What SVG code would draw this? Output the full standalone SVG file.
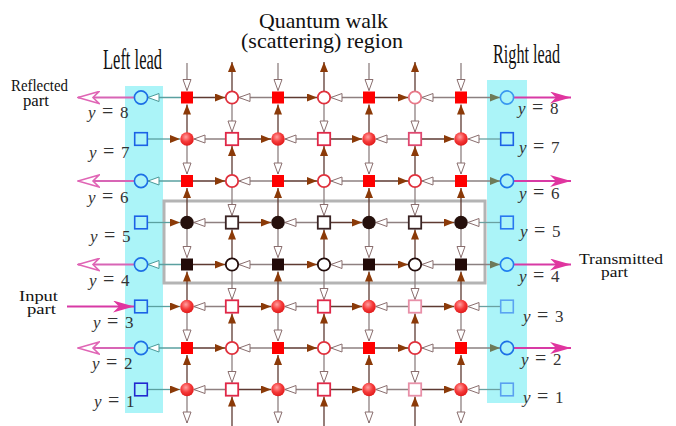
<svg xmlns="http://www.w3.org/2000/svg" xmlns:xlink="http://www.w3.org/1999/xlink" width="676" height="426" viewBox="0 0 676 426">
<style>
.e{fill:none;stroke-width:1.3}
.r,.u{stroke:#5e3a32;marker-end:url(#mf)}
.l,.d{stroke:#8e8080;marker-end:url(#mo)}
.rt{stroke:#5aa0a0;marker-end:url(#mf)}
.lt{stroke:#5aa0a0;marker-end:url(#mot)}
.rg{stroke:#8a8080;marker-end:url(#mg)}
.lr{stroke:#6aa0a0;marker-end:url(#mo)}
.pr{fill:none;stroke:#d865b5;stroke-width:2;marker-end:url(#mpo)}
.pt{fill:none;stroke:#d83aa5;stroke-width:2;marker-end:url(#mpf)}
.t{font-family:"Liberation Serif","DejaVu Serif",serif;fill:#111}
.m{font-family:"Liberation Serif","DejaVu Serif",serif;font-size:17px;fill:#333}
.m tspan.i{font-style:italic}
.m tspan.q{font-size:20px}
</style>
<defs>
<radialGradient id="gR" cx="0.42" cy="0.35" r="0.65">
<stop offset="0" stop-color="#ffa0a0"/><stop offset="0.55" stop-color="#f53a3a"/><stop offset="1" stop-color="#e01a1a"/>
</radialGradient>
<marker id="mf" viewBox="0 0 10 8" refX="10" refY="4" markerWidth="10" markerHeight="8" markerUnits="userSpaceOnUse" orient="auto"><path d="M0,0L10,4L0,8z" fill="#8b3a08"/></marker>
<marker id="mg" viewBox="0 0 10 8" refX="10" refY="4" markerWidth="10" markerHeight="8" markerUnits="userSpaceOnUse" orient="auto"><path d="M0,0L10,4L0,8z" fill="#6e7a58"/></marker>
<marker id="mo" viewBox="-1 -1 13 11" refX="11" refY="4.5" markerWidth="13" markerHeight="11" markerUnits="userSpaceOnUse" orient="auto"><path d="M0,0.5L11,4.5L0,8.5z" fill="#fff" stroke="#8a6e6e" stroke-width="1"/></marker>
<marker id="mot" viewBox="-1 -1 13 11" refX="11" refY="4.5" markerWidth="13" markerHeight="11" markerUnits="userSpaceOnUse" orient="auto"><path d="M0,0.5L11,4.5L0,8.5z" fill="#fff" stroke="#4a9a9a" stroke-width="1"/></marker>
<marker id="mpf" viewBox="0 0 21 12" refX="21" refY="6" markerWidth="21" markerHeight="12" markerUnits="userSpaceOnUse" orient="auto"><path d="M0,0L21,6L0,12L6,6z" fill="#e0359f"/></marker>
<marker id="mpo" viewBox="-1 -1 23 14" refX="21" refY="6" markerWidth="23" markerHeight="14" markerUnits="userSpaceOnUse" orient="auto"><path d="M0,0L21,6L0,12L6,6z" fill="#fff" stroke="#e065b5" stroke-width="1.6"/></marker>
<rect id="sF" x="-6" y="-6" width="12" height="12"/>
<circle id="cF" r="6.8"/>
<rect id="sO" x="-6.2" y="-6.2" width="12.4" height="12.4" fill="#fff" stroke-width="1.8"/>
<circle id="cO" r="6.2" fill="#fff" stroke-width="1.8"/>
<rect id="sB" x="-6.3" y="-6.3" width="12.6" height="12.6" fill="none" stroke-width="1.6"/>
<circle id="cB" r="6.6" fill="none" stroke-width="1.6"/>
</defs>

<g id="leads-bg">
<rect x="125" y="86" width="38" height="327" fill="#abf4f8"/>
<rect x="487" y="80" width="40" height="323" fill="#abf4f8"/>
</g>
<rect id="region-box" x="164" y="201" width="321" height="82" fill="none" stroke="#b4b4b4" stroke-width="3"/>

<g id="connectors" class="e">
<path class="lt" d="M187 97.5H148"/><path class="r" d="M187 97.5H225"/><path class="l" d="M278 97.5H239"/><path class="r" d="M278 97.5H317"/><path class="l" d="M369 97.5H331"/><path class="r" d="M369 97.5H408"/><path class="l" d="M461 97.5H422"/><path class="rg" d="M461 97.5H500"/>
<path class="lt" d="M187 181H148"/><path class="r" d="M187 181H225"/><path class="l" d="M278 181H239"/><path class="r" d="M278 181H317"/><path class="l" d="M369 181H331"/><path class="r" d="M369 181H408"/><path class="l" d="M461 181H422"/><path class="rg" d="M461 181H500"/>
<path class="lt" d="M187 264.5H148"/><path class="r" d="M187 264.5H225"/><path class="l" d="M278 264.5H239"/><path class="r" d="M278 264.5H317"/><path class="l" d="M369 264.5H331"/><path class="r" d="M369 264.5H408"/><path class="l" d="M461 264.5H422"/><path class="rg" d="M461 264.5H500"/>
<path class="lt" d="M187 348H148"/><path class="r" d="M187 348H225"/><path class="l" d="M278 348H239"/><path class="r" d="M278 348H317"/><path class="l" d="M369 348H331"/><path class="r" d="M369 348H408"/><path class="l" d="M461 348H422"/><path class="rg" d="M461 348H500"/>
<path class="rt" d="M148 139H180"/><path class="l" d="M232 139H194"/><path class="r" d="M232 139H271"/><path class="l" d="M324 139H285"/><path class="r" d="M324 139H362"/><path class="l" d="M415 139H376"/><path class="r" d="M415 139H454"/><path class="lr" d="M500 139H468"/>
<path class="rt" d="M148 222.5H180"/><path class="l" d="M232 222.5H194"/><path class="r" d="M232 222.5H271"/><path class="l" d="M324 222.5H285"/><path class="r" d="M324 222.5H362"/><path class="l" d="M415 222.5H376"/><path class="r" d="M415 222.5H454"/><path class="lr" d="M500 222.5H468"/>
<path class="rt" d="M148 306.5H180"/><path class="l" d="M232 306.5H194"/><path class="r" d="M232 306.5H271"/><path class="l" d="M324 306.5H285"/><path class="r" d="M324 306.5H362"/><path class="l" d="M415 306.5H376"/><path class="r" d="M415 306.5H454"/><path class="lr" d="M500 306.5H468"/>
<path class="rt" d="M148 389.5H180"/><path class="l" d="M232 389.5H194"/><path class="r" d="M232 389.5H271"/><path class="l" d="M324 389.5H285"/><path class="r" d="M324 389.5H362"/><path class="l" d="M415 389.5H376"/><path class="r" d="M415 389.5H454"/><path class="lr" d="M500 389.5H468"/>
<path class="d" d="M187 63V90.5"/><path class="u" d="M187 139V104.5"/><path class="d" d="M187 139V174"/><path class="u" d="M187 222.5V188"/><path class="d" d="M187 222.5V257.5"/><path class="u" d="M187 306.5V271.5"/><path class="d" d="M187 306.5V341"/><path class="u" d="M187 389.5V355"/><path class="d" d="M187 389.5V423"/>
<path class="d" d="M278 63V90.5"/><path class="u" d="M278 139V104.5"/><path class="d" d="M278 139V174"/><path class="u" d="M278 222.5V188"/><path class="d" d="M278 222.5V257.5"/><path class="u" d="M278 306.5V271.5"/><path class="d" d="M278 306.5V341"/><path class="u" d="M278 389.5V355"/><path class="d" d="M278 389.5V423"/>
<path class="d" d="M369 63V90.5"/><path class="u" d="M369 139V104.5"/><path class="d" d="M369 139V174"/><path class="u" d="M369 222.5V188"/><path class="d" d="M369 222.5V257.5"/><path class="u" d="M369 306.5V271.5"/><path class="d" d="M369 306.5V341"/><path class="u" d="M369 389.5V355"/><path class="d" d="M369 389.5V423"/>
<path class="d" d="M461 63V90.5"/><path class="u" d="M461 139V104.5"/><path class="d" d="M461 139V174"/><path class="u" d="M461 222.5V188"/><path class="d" d="M461 222.5V257.5"/><path class="u" d="M461 306.5V271.5"/><path class="d" d="M461 306.5V341"/><path class="u" d="M461 389.5V355"/><path class="d" d="M461 389.5V423"/>
<path class="u" d="M232 97.5V62"/><path class="d" d="M232 97.5V132"/><path class="u" d="M232 181V146"/><path class="d" d="M232 181V215.5"/><path class="u" d="M232 264.5V229.5"/><path class="d" d="M232 264.5V299.5"/><path class="u" d="M232 348V313.5"/><path class="d" d="M232 348V382.5"/><path class="u" d="M232 426V396.5"/>
<path class="u" d="M324 97.5V62"/><path class="d" d="M324 97.5V132"/><path class="u" d="M324 181V146"/><path class="d" d="M324 181V215.5"/><path class="u" d="M324 264.5V229.5"/><path class="d" d="M324 264.5V299.5"/><path class="u" d="M324 348V313.5"/><path class="d" d="M324 348V382.5"/><path class="u" d="M324 426V396.5"/>
<path class="u" d="M415 97.5V62"/><path class="d" d="M415 97.5V132"/><path class="u" d="M415 181V146"/><path class="d" d="M415 181V215.5"/><path class="u" d="M415 264.5V229.5"/><path class="d" d="M415 264.5V299.5"/><path class="u" d="M415 348V313.5"/><path class="d" d="M415 348V382.5"/><path class="u" d="M415 426V396.5"/>
<path class="pr" d="M134 97.5H78"/><path class="pr" d="M134 181H78"/><path class="pr" d="M134 264.5H78"/><path class="pr" d="M134 348H78"/>
<path class="pt" d="M514 97.5H571"/><path class="pt" d="M514 181H571"/><path class="pt" d="M514 264.5H571"/><path class="pt" d="M514 348H571"/>
<path class="pt" d="M67 306.5H134"/>
</g>

<g id="row8">
<g id="L8"><use href="#cB" x="141" y="97.5" stroke="#1c6fe6"/></g>
<g id="n8-1"><use href="#sF" x="187" y="97.5" fill="#ff0000"/></g>
<g id="n8-2"><use href="#cO" x="232" y="97.5" stroke="#e0303c"/></g>
<g id="n8-3"><use href="#sF" x="278" y="97.5" fill="#ff0000"/></g>
<g id="n8-4"><use href="#cO" x="324" y="97.5" stroke="#e0303c"/></g>
<g id="n8-5"><use href="#sF" x="369" y="97.5" fill="#ff0000"/></g>
<g id="n8-6"><use href="#cO" x="415" y="97.5" stroke="#e87888"/></g>
<g id="n8-7"><use href="#sF" x="461" y="97.5" fill="#ff0000"/></g>
<g id="R8"><use href="#cB" x="507" y="97.5" stroke="#3a98f0"/></g>
</g>
<g id="row7">
<g id="L7"><use href="#sB" x="141" y="139" stroke="#1c62e6"/></g>
<g id="n7-1"><use href="#cF" x="187" y="139" fill="url(#gR)"/></g>
<g id="n7-2"><use href="#sO" x="232" y="139" stroke="#e02848"/></g>
<g id="n7-3"><use href="#cF" x="278" y="139" fill="url(#gR)"/></g>
<g id="n7-4"><use href="#sO" x="324" y="139" stroke="#e02848"/></g>
<g id="n7-5"><use href="#cF" x="369" y="139" fill="url(#gR)"/></g>
<g id="n7-6"><use href="#sO" x="415" y="139" stroke="#e04870"/></g>
<g id="n7-7"><use href="#cF" x="461" y="139" fill="url(#gR)"/></g>
<g id="R7"><use href="#sB" x="507" y="139" stroke="#1c62e6"/></g>
</g>
<g id="row6">
<g id="L6"><use href="#cB" x="141" y="181" stroke="#1c6fe6"/></g>
<g id="n6-1"><use href="#sF" x="187" y="181" fill="#ff0000"/></g>
<g id="n6-2"><use href="#cO" x="232" y="181" stroke="#e0303c"/></g>
<g id="n6-3"><use href="#sF" x="278" y="181" fill="#ff0000"/></g>
<g id="n6-4"><use href="#cO" x="324" y="181" stroke="#e0303c"/></g>
<g id="n6-5"><use href="#sF" x="369" y="181" fill="#ff0000"/></g>
<g id="n6-6"><use href="#cO" x="415" y="181" stroke="#e0303c"/></g>
<g id="n6-7"><use href="#sF" x="461" y="181" fill="#ff0000"/></g>
<g id="R6"><use href="#cB" x="507" y="181" stroke="#1c78ea"/></g>
</g>
<g id="row5">
<g id="L5"><use href="#sB" x="141" y="222.5" stroke="#1c62e6"/></g>
<g id="n5-1"><use href="#cF" x="187" y="222.5" fill="#25100c"/></g>
<g id="n5-2"><use href="#sO" x="232" y="222.5" stroke="#3a2424"/></g>
<g id="n5-3"><use href="#cF" x="278" y="222.5" fill="#25100c"/></g>
<g id="n5-4"><use href="#sO" x="324" y="222.5" stroke="#3a2424"/></g>
<g id="n5-5"><use href="#cF" x="369" y="222.5" fill="#25100c"/></g>
<g id="n5-6"><use href="#sO" x="415" y="222.5" stroke="#3a2424"/></g>
<g id="n5-7"><use href="#cF" x="461" y="222.5" fill="#25100c"/></g>
<g id="R5"><use href="#sB" x="507" y="222.5" stroke="#2878f0"/></g>
</g>
<g id="row4">
<g id="L4"><use href="#cB" x="141" y="264.5" stroke="#1c6fe6"/></g>
<g id="n4-1"><use href="#sF" x="187" y="264.5" fill="#220a08"/></g>
<g id="n4-2"><use href="#cO" x="232" y="264.5" stroke="#220c0a"/></g>
<g id="n4-3"><use href="#sF" x="278" y="264.5" fill="#220a08"/></g>
<g id="n4-4"><use href="#cO" x="324" y="264.5" stroke="#220c0a"/></g>
<g id="n4-5"><use href="#sF" x="369" y="264.5" fill="#220a08"/></g>
<g id="n4-6"><use href="#cO" x="415" y="264.5" stroke="#220c0a"/></g>
<g id="n4-7"><use href="#sF" x="461" y="264.5" fill="#220a08"/></g>
<g id="R4"><use href="#cB" x="507" y="264.5" stroke="#2080f0"/></g>
</g>
<g id="row3">
<g id="L3"><use href="#sB" x="141" y="306.5" stroke="#1c62e6"/></g>
<g id="n3-1"><use href="#cF" x="187" y="306.5" fill="url(#gR)"/></g>
<g id="n3-2"><use href="#sO" x="232" y="306.5" stroke="#e02848"/></g>
<g id="n3-3"><use href="#cF" x="278" y="306.5" fill="url(#gR)"/></g>
<g id="n3-4"><use href="#sO" x="324" y="306.5" stroke="#e02848"/></g>
<g id="n3-5"><use href="#cF" x="369" y="306.5" fill="url(#gR)"/></g>
<g id="n3-6"><use href="#sO" x="415" y="306.5" stroke="#e890a8"/></g>
<g id="n3-7"><use href="#cF" x="461" y="306.5" fill="url(#gR)"/></g>
<g id="R3"><use href="#sB" x="507" y="306.5" stroke="#5aa4f2"/></g>
</g>
<g id="row2">
<g id="L2"><use href="#cB" x="141" y="348" stroke="#1c6fe6"/></g>
<g id="n2-1"><use href="#sF" x="187" y="348" fill="#ff0000"/></g>
<g id="n2-2"><use href="#cO" x="232" y="348" stroke="#e0303c"/></g>
<g id="n2-3"><use href="#sF" x="278" y="348" fill="#ff0000"/></g>
<g id="n2-4"><use href="#cO" x="324" y="348" stroke="#e0303c"/></g>
<g id="n2-5"><use href="#sF" x="369" y="348" fill="#ff0000"/></g>
<g id="n2-6"><use href="#cO" x="415" y="348" stroke="#e0303c"/></g>
<g id="n2-7"><use href="#sF" x="461" y="348" fill="#ff0000"/></g>
<g id="R2"><use href="#cB" x="507" y="348" stroke="#1c70e6"/></g>
</g>
<g id="row1">
<g id="L1"><use href="#sB" x="141" y="389.5" stroke="#2228d0"/></g>
<g id="n1-1"><use href="#cF" x="187" y="389.5" fill="url(#gR)"/></g>
<g id="n1-2"><use href="#sO" x="232" y="389.5" stroke="#e02848"/></g>
<g id="n1-3"><use href="#cF" x="278" y="389.5" fill="url(#gR)"/></g>
<g id="n1-4"><use href="#sO" x="324" y="389.5" stroke="#e02848"/></g>
<g id="n1-5"><use href="#cF" x="369" y="389.5" fill="url(#gR)"/></g>
<g id="n1-6"><use href="#sO" x="415" y="389.5" stroke="#e890a8"/></g>
<g id="n1-7"><use href="#cF" x="461" y="389.5" fill="url(#gR)"/></g>
<g id="R1"><use href="#sB" x="507" y="389.5" stroke="#5aa0f0"/></g>
</g>

<g id="titles" class="t">
<text x="103" y="69" font-size="29" textLength="59" lengthAdjust="spacingAndGlyphs">Left lead</text>
<text font-size="21"><tspan x="259" y="28" textLength="129" lengthAdjust="spacingAndGlyphs">Quantum walk</tspan><tspan x="241" y="47.5" textLength="162" lengthAdjust="spacingAndGlyphs">(scattering) region</tspan></text>
<text x="493" y="63" font-size="27" textLength="67" lengthAdjust="spacingAndGlyphs">Right lead</text>
<text font-size="16"><tspan x="11" y="91" font-size="17" textLength="57" lengthAdjust="spacingAndGlyphs">Reflected</tspan><tspan x="23" y="106" textLength="26" lengthAdjust="spacingAndGlyphs">part</tspan></text>
<text font-size="15"><tspan x="19" y="301" textLength="39" lengthAdjust="spacingAndGlyphs">Input</tspan><tspan x="27" y="313.5" textLength="29" lengthAdjust="spacingAndGlyphs">part</tspan></text>
<text font-size="15"><tspan x="579" y="264" textLength="84" lengthAdjust="spacingAndGlyphs">Transmitted</tspan><tspan x="601" y="276.5" textLength="27" lengthAdjust="spacingAndGlyphs">part</tspan></text>
</g>

<g id="labels" class="m">
<text x="88" y="118"><tspan class="i">y</tspan><tspan class="q" x="102">=</tspan><tspan x="120">8</tspan></text>
<text x="89" y="158"><tspan class="i">y</tspan><tspan class="q" x="103">=</tspan><tspan x="121">7</tspan></text>
<text x="88" y="203"><tspan class="i">y</tspan><tspan class="q" x="102">=</tspan><tspan x="120">6</tspan></text>
<text x="90" y="242"><tspan class="i">y</tspan><tspan class="q" x="104">=</tspan><tspan x="122">5</tspan></text>
<text x="89" y="286"><tspan class="i">y</tspan><tspan class="q" x="103">=</tspan><tspan x="121">4</tspan></text>
<text x="93" y="328"><tspan class="i">y</tspan><tspan class="q" x="107">=</tspan><tspan x="125">3</tspan></text>
<text x="92" y="369"><tspan class="i">y</tspan><tspan class="q" x="106">=</tspan><tspan x="124">2</tspan></text>
<text x="94" y="407"><tspan class="i">y</tspan><tspan class="q" x="108">=</tspan><tspan x="126">1</tspan></text>
<text x="518" y="114"><tspan class="i">y</tspan><tspan class="q" x="532">=</tspan><tspan x="550">8</tspan></text>
<text x="519" y="153"><tspan class="i">y</tspan><tspan class="q" x="533">=</tspan><tspan x="551">7</tspan></text>
<text x="519" y="199"><tspan class="i">y</tspan><tspan class="q" x="533">=</tspan><tspan x="551">6</tspan></text>
<text x="520" y="237"><tspan class="i">y</tspan><tspan class="q" x="534">=</tspan><tspan x="552">5</tspan></text>
<text x="519" y="282"><tspan class="i">y</tspan><tspan class="q" x="533">=</tspan><tspan x="551">4</tspan></text>
<text x="523" y="322"><tspan class="i">y</tspan><tspan class="q" x="537">=</tspan><tspan x="555">3</tspan></text>
<text x="521" y="365"><tspan class="i">y</tspan><tspan class="q" x="535">=</tspan><tspan x="553">2</tspan></text>
<text x="523" y="403"><tspan class="i">y</tspan><tspan class="q" x="537">=</tspan><tspan x="555">1</tspan></text>
</g>
</svg>
